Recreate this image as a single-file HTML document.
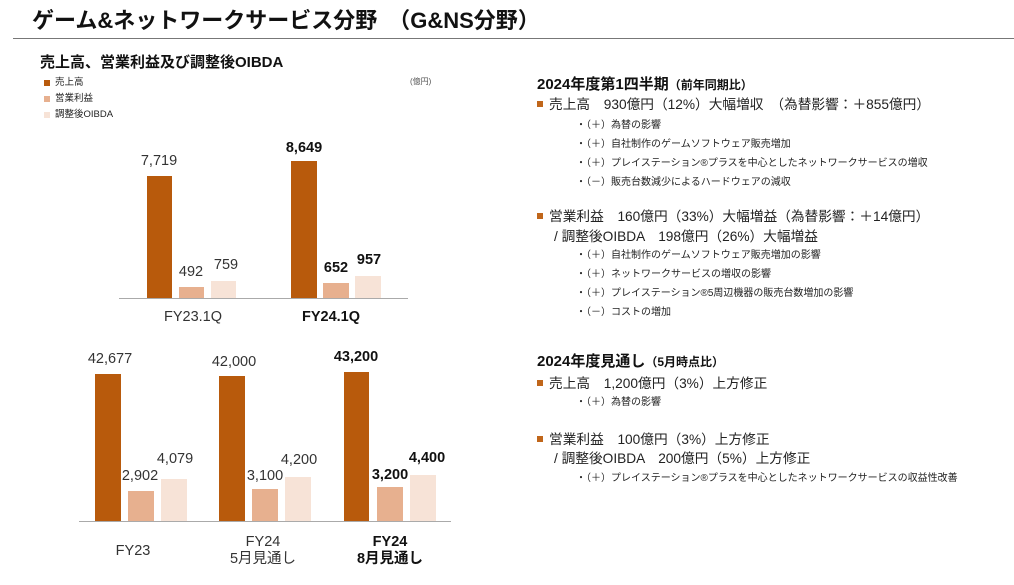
<!DOCTYPE html>
<html><head><meta charset="utf-8"><style>
body{margin:0;width:1014px;height:585px;background:#fff;position:relative;overflow:hidden;font-family:"Liberation Sans","Noto Sans CJK JP",sans-serif;color:#222}
.t{position:absolute;white-space:nowrap;line-height:1}
.b{position:absolute;}
.s{background:#b85a0c}.o{background:#e7b08f}.d{background:#f7e3d7}
.c{transform:translateX(-50%);text-align:center}
.v{font-size:14.5px;color:#333}
.bb{font-weight:bold;color:#111}
.m{font-size:13.7px}.sub{font-size:10px}
.sq{display:inline-block;width:6px;height:6px;background:#c0661a;margin-right:6px;vertical-align:2px}
</style></head><body>
<div class="t" style="left:32px;top:10px;font-size:22px;font-weight:bold;color:#111">ゲーム&amp;ネットワークサービス分野　（G&amp;NS分野）</div>
<div class="b" style="left:13px;top:38px;width:1001px;height:1px;background:#777"></div>
<div class="t" style="left:40px;top:55px;font-size:15px;font-weight:bold;color:#111">売上高、営業利益及び調整後OIBDA</div>
<div class="b s" style="left:44px;top:80px;width:6px;height:6px"></div><div class="t" style="left:55px;top:78px;font-size:9.5px">売上高</div>
<div class="b o" style="left:44px;top:96px;width:6px;height:6px"></div><div class="t" style="left:55px;top:94px;font-size:9.5px">営業利益</div>
<div class="b d" style="left:44px;top:112px;width:6px;height:6px"></div><div class="t" style="left:55px;top:110px;font-size:9.5px">調整後OIBDA</div>
<div class="t" style="left:410px;top:78px;font-size:8px;color:#555">(億円)</div>

<div class="b" style="left:119px;top:298px;width:289px;height:1px;background:#aaa"></div>
<div class="b s" style="left:147px;top:176px;width:25px;height:122px"></div>
<div class="b o" style="left:179px;top:287px;width:25px;height:11px"></div>
<div class="b d" style="left:211px;top:281px;width:25px;height:17px"></div>
<div class="b s" style="left:291px;top:161px;width:26px;height:137px"></div>
<div class="b o" style="left:323px;top:283px;width:26px;height:15px"></div>
<div class="b d" style="left:355px;top:276px;width:26px;height:22px"></div>
<div class="t v c" style="left:159px;top:154px">7,719</div>
<div class="t v c" style="left:191px;top:265px">492</div>
<div class="t v c" style="left:226px;top:258px">759</div>
<div class="t v c bb" style="left:304px;top:141px">8,649</div>
<div class="t v c bb" style="left:336px;top:261px">652</div>
<div class="t v c bb" style="left:369px;top:253px">957</div>
<div class="t v c" style="left:193px;top:310px">FY23.1Q</div>
<div class="t v c bb" style="left:331px;top:310px">FY24.1Q</div>

<div class="b" style="left:79px;top:521px;width:372px;height:1px;background:#aaa"></div>
<div class="b s" style="left:95px;top:374px;width:26px;height:147px"></div>
<div class="b o" style="left:128px;top:491px;width:26px;height:30px"></div>
<div class="b d" style="left:161px;top:479px;width:26px;height:42px"></div>
<div class="b s" style="left:219px;top:376px;width:26px;height:145px"></div>
<div class="b o" style="left:252px;top:489px;width:26px;height:32px"></div>
<div class="b d" style="left:285px;top:477px;width:26px;height:44px"></div>
<div class="b s" style="left:344px;top:372px;width:25px;height:149px"></div>
<div class="b o" style="left:377px;top:487px;width:26px;height:34px"></div>
<div class="b d" style="left:410px;top:475px;width:26px;height:46px"></div>
<div class="t v c" style="left:110px;top:352px">42,677</div>
<div class="t v c" style="left:140px;top:469px">2,902</div>
<div class="t v c" style="left:175px;top:452px">4,079</div>
<div class="t v c" style="left:234px;top:355px">42,000</div>
<div class="t v c" style="left:265px;top:469px">3,100</div>
<div class="t v c" style="left:299px;top:453px">4,200</div>
<div class="t v c bb" style="left:356px;top:350px">43,200</div>
<div class="t v c bb" style="left:390px;top:468px">3,200</div>
<div class="t v c bb" style="left:427px;top:451px">4,400</div>
<div class="t v c" style="left:133px;top:544px">FY23</div>
<div class="t v c" style="left:263px;top:534px;line-height:17px">FY24<br>5月見通し</div>
<div class="t v c bb" style="left:390px;top:534px;line-height:17px">FY24<br>8月見通し</div>

<div class="t" style="left:537px;top:77px;font-size:15px;font-weight:bold;color:#111">2024年度第1四半期<span style="font-size:12px">（前年同期比）</span></div>
<div class="t m" style="left:537px;top:98px"><span class="sq"></span>売上高　930億円（12%）大幅増収　（為替影響：＋855億円）</div>
<div class="t sub" style="left:576px;top:121px">・（＋）為替の影響</div>
<div class="t sub" style="left:576px;top:140px">・（＋）自社制作のゲームソフトウェア販売増加</div>
<div class="t sub" style="left:576px;top:159px">・（＋）プレイステーション®プラスを中心としたネットワークサービスの増収</div>
<div class="t sub" style="left:576px;top:178px">・（－）販売台数減少によるハードウェアの減収</div>
<div class="t m" style="left:537px;top:210px"><span class="sq"></span>営業利益　160億円（33%）大幅増益（為替影響：＋14億円）</div>
<div class="t m" style="left:554px;top:230px">/ 調整後OIBDA　198億円（26%）大幅増益</div>
<div class="t sub" style="left:576px;top:251px">・（＋）自社制作のゲームソフトウェア販売増加の影響</div>
<div class="t sub" style="left:576px;top:270px">・（＋）ネットワークサービスの増収の影響</div>
<div class="t sub" style="left:576px;top:289px">・（＋）プレイステーション®5周辺機器の販売台数増加の影響</div>
<div class="t sub" style="left:576px;top:308px">・（－）コストの増加</div>
<div class="t" style="left:537px;top:354px;font-size:15px;font-weight:bold;color:#111">2024年度見通し<span style="font-size:12px">（5月時点比）</span></div>
<div class="t m" style="left:537px;top:377px"><span class="sq"></span>売上高　1,200億円（3%）上方修正</div>
<div class="t sub" style="left:576px;top:398px">・（＋）為替の影響</div>
<div class="t m" style="left:537px;top:433px"><span class="sq"></span>営業利益　100億円（3%）上方修正</div>
<div class="t m" style="left:554px;top:452px">/ 調整後OIBDA　200億円（5%）上方修正</div>
<div class="t sub" style="left:576px;top:474px">・（＋）プレイステーション®プラスを中心としたネットワークサービスの収益性改善</div>
</body></html>
